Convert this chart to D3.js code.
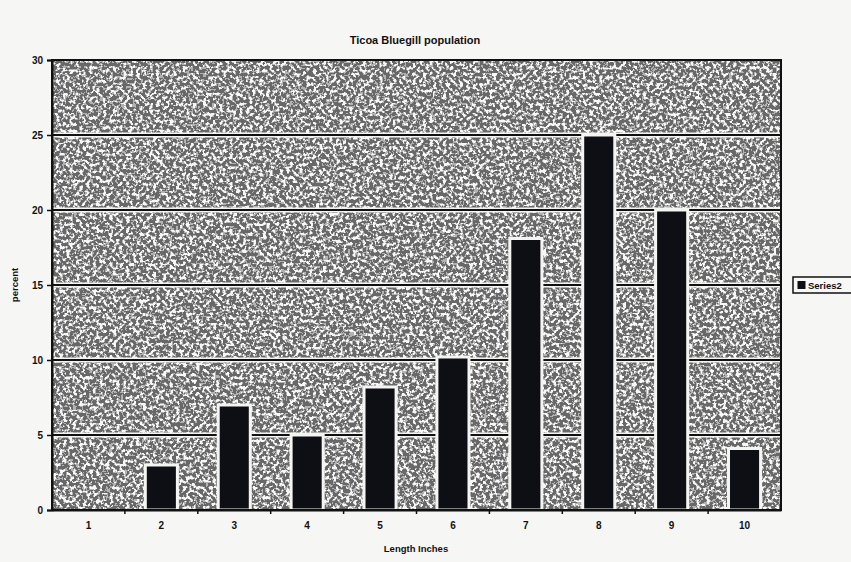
<!DOCTYPE html>
<html>
<head>
<meta charset="utf-8">
<script src="https://cdn.jsdelivr.net/npm/d3@7"></script>
<style>
  html, body { margin: 0; padding: 0; background: #f6f6f5; }
  svg { display: block; }
  text { font-family: "Liberation Sans", Arial, sans-serif; font-weight: bold; fill: #111; }
</style>
</head>
<body>
<svg id="chart" width="851" height="562"></svg>
<script>
// Bluegill length distribution (percent of catch per inch class)
const lengths = ["1", "2", "3", "4", "5", "6", "7", "8", "9", "10"];
const percents = [0, 3, 7, 5, 8.2, 10.2, 18.1, 25, 20, 4.1];
const yTicks = [0, 5, 10, 15, 20, 25, 30];
const seriesName = "Series2";

const plot = { left: 52, right: 781, top: 60, bottom: 510 };

const svg = d3.select("#chart");

// speckled fill for the plot area
const defs = svg.append("defs");
const f = defs.append("filter")
  .attr("id", "speckle")
  .attr("filterUnits", "userSpaceOnUse")
  .attr("x", plot.left).attr("y", plot.top)
  .attr("width", plot.right - plot.left).attr("height", plot.bottom - plot.top);
f.append("feTurbulence")
  .attr("type", "fractalNoise").attr("baseFrequency", "0.3")
  .attr("numOctaves", 2).attr("seed", 7).attr("result", "n");
f.append("feColorMatrix").attr("type", "matrix")
  .attr("values", "1 0 0 0 0  1 0 0 0 0  1 0 0 0 0  0 0 0 0 1")
  .attr("result", "g");
const ct = f.append("feComponentTransfer").attr("result", "t");
["R", "G", "B"].forEach(c => ct.append("feFunc" + c)
  .attr("type", "discrete")
  .attr("tableValues", "0.14 0.14 0.14 0.14 0.14 0.45 0.93 0.93 0.93 0.93"));
f.append("feGaussianBlur").attr("stdDeviation", 0.35);

const x = d3.scaleBand()
  .domain(lengths)
  .range([plot.left, plot.right])
  .paddingInner(0.56)
  .paddingOuter(0.28);

const y = d3.scaleLinear()
  .domain([0, 30])
  .range([plot.bottom, plot.top]);

// plot background
svg.append("rect")
  .attr("x", plot.left).attr("y", plot.top)
  .attr("width", plot.right - plot.left).attr("height", plot.bottom - plot.top)
  .attr("fill", "#888")
  .attr("filter", "url(#speckle)");

// gridlines with a light halo
const grid = svg.append("g");
yTicks.filter(t => t > 0 && t < 30).forEach(t => {
  grid.append("line")
    .attr("x1", plot.left).attr("x2", plot.right)
    .attr("y1", y(t)).attr("y2", y(t))
    .attr("stroke", "#f4f4f2").attr("stroke-width", 5);
  grid.append("line")
    .attr("x1", plot.left).attr("x2", plot.right)
    .attr("y1", y(t)).attr("y2", y(t))
    .attr("stroke", "#111").attr("stroke-width", 1.8);
});

// bars
svg.append("g")
  .selectAll("rect")
  .data(lengths.map((l, i) => ({ l, v: percents[i] })).filter(d => d.v > 0))
  .join("rect")
  .attr("x", d => x(d.l))
  .attr("y", d => y(d.v))
  .attr("width", x.bandwidth())
  .attr("height", d => y(0) - y(d.v))
  .attr("fill", "#0d0f14")
  .attr("stroke", "#f4f4f2")
  .attr("stroke-width", 3);

// frame
svg.append("rect")
  .attr("x", plot.left).attr("y", plot.top)
  .attr("width", plot.right - plot.left).attr("height", plot.bottom - plot.top)
  .attr("fill", "none").attr("stroke", "#111").attr("stroke-width", 2);

// y axis
const yAxis = svg.append("g")
  .attr("transform", `translate(${plot.left},0)`)
  .call(d3.axisLeft(y).tickValues(yTicks).tickSize(5).tickPadding(4));
yAxis.select(".domain").attr("stroke", "#111").attr("stroke-width", 2);
yAxis.selectAll(".tick line").attr("stroke", "#111").attr("stroke-width", 1.5);
yAxis.selectAll("text").style("font-size", "10px").attr("fill", "#111");

// x axis: labels centred under bars, tick marks between categories
const xAxis = svg.append("g")
  .attr("transform", `translate(0,${plot.bottom})`)
  .call(d3.axisBottom(x).tickSize(0).tickPadding(12));
xAxis.select(".domain").attr("stroke", "#111").attr("stroke-width", 2);
xAxis.selectAll("text").style("font-size", "10px").attr("fill", "#111");
const step = x.step();
xAxis.selectAll(".sep")
  .data(lengths.slice(1))
  .join("line")
  .attr("x1", d => x(d) - (step - x.bandwidth()) / 2)
  .attr("x2", d => x(d) - (step - x.bandwidth()) / 2)
  .attr("y1", 0).attr("y2", 4)
  .attr("stroke", "#111").attr("stroke-width", 1.5);

// titles
svg.append("text")
  .attr("x", 415).attr("y", 44)
  .attr("text-anchor", "middle")
  .style("font-size", "11px")
  .text("Ticoa Bluegill population");

svg.append("text")
  .attr("transform", "translate(18,285) rotate(-90)")
  .attr("text-anchor", "middle")
  .style("font-size", "9.5px")
  .text("percent");

svg.append("text")
  .attr("x", 416).attr("y", 552)
  .attr("text-anchor", "middle")
  .style("font-size", "9.5px")
  .text("Length Inches");

// legend
const lg = svg.append("g").attr("transform", "translate(793,277)");
lg.append("rect")
  .attr("width", 62).attr("height", 16)
  .attr("fill", "#f8f8f7").attr("stroke", "#111").attr("stroke-width", 1.5);
lg.append("rect")
  .attr("x", 5).attr("y", 4.5).attr("width", 7).attr("height", 7)
  .attr("fill", "#0d0f14").attr("stroke", "#111");
lg.append("text")
  .attr("x", 15).attr("y", 11.5)
  .style("font-size", "9.5px")
  .text(seriesName);
</script>
</body>
</html>
